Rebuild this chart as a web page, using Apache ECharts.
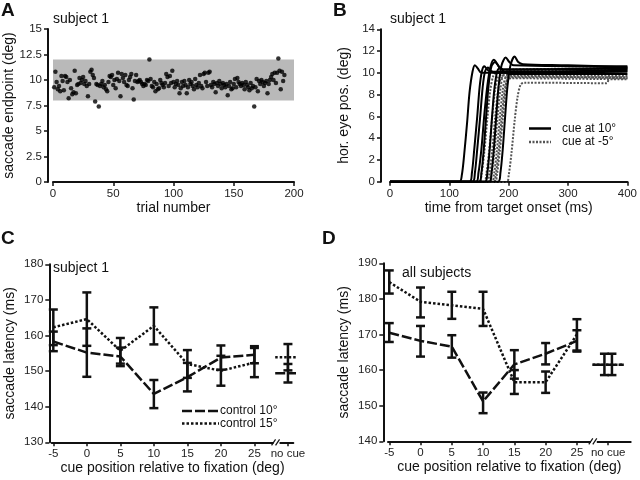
<!DOCTYPE html>
<html><head><meta charset="utf-8">
<script src="https://cdn.jsdelivr.net/npm/echarts@6/dist/echarts.min.js"></script>
<style>html,body{margin:0;padding:0;background:#fff}#main{width:640px;height:480px}</style>
</head><body><div id="main"></div>
<script>
// ---------- Panel A: saccade endpoints per trial ----------
const endpointA = [
9.3,10.8,9.8,9.1,9.4,8.9,10.4,9.9,9.0,10.4,
10.3,9.8,8.2,10.0,9.2,8.6,8.8,10.9,8.7,9.5,
9.6,10.2,9.7,10.0,10.3,9.6,9.9,9.4,8.4,9.6,
10.8,11.0,10.5,10.2,7.9,9.6,9.5,7.4,9.4,9.6,
9.9,9.3,9.5,9.1,8.9,9.8,10.4,10.3,10.5,9.5,
10.0,9.2,10.1,10.7,9.9,8.4,10.6,10.2,9.8,10.5,
9.5,9.4,10.0,10.3,10.6,9.2,8.1,9.9,10.5,9.8,
9.9,10.0,9.8,9.6,9.4,9.6,9.5,10.0,9.9,12.0,
10.1,9.4,9.3,9.8,8.9,9.6,9.1,9.2,10.0,9.7,
9.5,9.3,9.7,10.6,10.3,9.4,10.4,9.7,10.9,9.8,
9.3,9.6,9.9,9.5,8.7,9.2,9.8,9.4,9.9,9.5,
8.7,9.3,10.0,9.6,9.8,9.4,9.1,10.1,9.5,9.3,
9.7,10.5,9.4,9.2,10.6,10.7,9.8,9.4,10.7,10.8,
9.5,9.3,9.8,9.6,8.8,9.7,9.4,9.9,9.6,9.2,
9.7,9.5,9.3,9.6,8.5,9.4,9.8,9.1,9.2,9.6,
10.1,9.3,10.2,9.8,9.6,9.4,9.7,9.5,9.1,9.8,
9.5,9.3,9.0,9.7,9.2,9.4,7.4,9.3,10.1,8.9,
9.9,9.6,10.0,9.8,9.4,9.7,9.9,8.7,9.6,10.0,
10.3,10.6,10.0,10.7,9.7,10.7,12.1,10.9,9.1,10.8,
9.9,10.5];
const bandA = [8, 12];

// ---------- Panel B: eye position traces [time ms, deg] ----------
const tracesCue10 = [
 [[0,0],[117,0],[121,0.6],[125,2.5],[130,5.5],[134,8.2],[139,10.1],[143,10.7],[148,10.4],[154,10.0],[170,10.0],[400,10.1]],
 [[0,0],[134,0],[138,0.8],[142,3],[147,6],[151,8.7],[155,10.2],[159,10.6],[164,10.3],[170,10.1],[400,10.2]],
 [[0,0],[139,0],[143,0.8],[147,3],[152,6],[156,8.6],[160,10.1],[165,10.5],[170,10.2],[176,10.0],[400,10.3]],
 [[0,0],[145,0],[149,0.8],[154,3],[159,6.2],[164,8.8],[169,10.5],[175,11.2],[181,10.8],[188,10.3],[400,10.4]],
 [[0,0],[150,0],[154,0.8],[158,3],[162,6],[166,8.8],[171,10.6],[177,11.0],[183,10.6],[190,10.3],[400,10.5]],
 [[0,0],[160,0],[164,0.8],[168,3],[172,6],[176,8.6],[181,10.2],[186,10.5],[192,10.1],[200,9.9],[400,9.9]],
 [[0,0],[167,0],[171,0.8],[175,3],[179,6],[183,8.8],[188,10.7],[195,11.4],[201,11.0],[208,10.7],[400,10.6]],
 [[0,0],[182,0],[186,0.8],[190,3],[194,6],[198,8.8],[203,10.7],[210,11.5],[216,11.0],[224,10.8],[300,10.7],[400,10.5]]
];
const tracesCueM5 = [
 [[0,-0.1],[150,-0.1],[154,0.6],[159,2.8],[164,5.8],[169,8.4],[174,9.7],[180,10.0],[400,9.9]],
 [[0,-0.1],[158,-0.1],[162,0.6],[167,2.8],[172,5.8],[177,8.4],[182,9.6],[188,9.8],[400,9.7]],
 [[0,-0.1],[163,-0.1],[167,0.6],[172,2.8],[177,5.8],[182,8.3],[187,9.5],[195,9.6],[400,9.6]],
 [[0,-0.1],[167,-0.1],[171,0.6],[176,2.8],[181,5.8],[186,8.5],[191,9.9],[198,10.2],[400,10.3]],
 [[0,-0.1],[171,-0.1],[175,0.6],[180,2.8],[185,5.8],[190,8.4],[195,9.6],[202,9.7],[400,9.5]],
 [[0,-0.1],[174,-0.1],[178,0.6],[183,2.8],[188,5.8],[193,8.3],[198,9.4],[206,9.5],[400,9.4]],
 [[0,-0.1],[176,-0.1],[180,0.6],[185,2.8],[190,5.8],[195,8.6],[200,10.0],[208,10.3],[400,10.4]],
 [[0,-0.1],[196,-0.1],[200,0.6],[205,2.8],[210,5.6],[215,7.8],[220,8.9],[226,9.1],[365,9.05],[370,9.5],[400,9.5]]
];

// ---------- Panels C & D: latency vs cue position ----------
const cuePos = [-5, 0, 5, 10, 15, 20, 25];
const noCuePos = 30;
const xTickLabels = ['-5','0','5','10','15','20','25','no cue'];

const c10 = [158.3,155.2,154.1,143.6,148.3,153.8,154.6];
const c10Err = [[155.6,161.1],[148.4,162.0],[151.4,156.6],[139.6,147.5],[144.3,152.3],[150.4,157.2],[152.2,157.0]];
const c15 = [162.3,164.6,155.7,162.7,152.0,150.1,152.4];
const c15Err = [[157.3,167.3],[157.1,172.1],[152.1,159.3],[157.5,167.9],[148.1,155.9],[145.9,154.3],[148.3,156.5]];
const c10NoCue = 149.4, c10NoCueErr = [146.8,152.0];
const c15NoCue = 153.9, c15NoCueErr = [150.2,157.6];

const d10 = [170.5,168.2,166.6,151.2,161.6,164.6,168.2];
const d10Err = [[167.9,173.2],[163.8,172.4],[163.5,169.8],[147.9,153.7],[157.6,165.6],[161.6,167.6],[165.2,171.2]];
const d15 = [184.7,179.2,178.2,177.2,156.6,156.6,170.0];
const d15Err = [[181.5,188.0],[174.8,183.2],[174.4,182.0],[172.4,182.0],[153.3,160.0],[153.6,159.6],[165.5,174.3]];
const d10NoCue = 161.5, d10NoCueErr = [158.6,164.6];
const d15NoCue = 161.5, d15NoCueErr = [158.6,164.6];

// ---------- styling ----------
const FONT = "'Liberation Sans', Arial, sans-serif";
const black = '#111';
const axisLine = {show:true, onZero:false, lineStyle:{color:black, width:2}};
const axisTick = {show:true, length:4, lineStyle:{color:black, width:1.5}};
const lbl = {color:'#222', fontSize:11.5, fontFamily:FONT, margin:6};
const nameStyle = {color:'#111', fontSize:14, fontFamily:FONT};

function errRender(params, api) {
  const x = api.value(0), lo = api.value(1), hi = api.value(2);
  const a = api.coord([x, lo]), b = api.coord([x, hi]);
  const w = 4.5, st = {stroke:black, lineWidth:2.5};
  return {type:'group', children:[
    {type:'line', shape:{x1:a[0],y1:a[1],x2:b[0],y2:b[1]}, style:st},
    {type:'line', shape:{x1:a[0]-w,y1:a[1],x2:a[0]+w,y2:a[1]}, style:st},
    {type:'line', shape:{x1:b[0]-w,y1:b[1],x2:b[0]+w,y2:b[1]}, style:st}
  ]};
}
function errSeries(idx, xs, errs) {
  return {type:'custom', xAxisIndex:idx, yAxisIndex:idx, renderItem:errRender, clip:false, z:5,
    data: xs.map((x,i)=>[x, errs[i][0], errs[i][1]]), encode:{x:0, y:[1,2]}};
}
const DASH = [10,3], DOT = [2.5,2];
function lineSeries(idx, xs, ys, dash) {
  return {type:'line', xAxisIndex:idx, yAxisIndex:idx, symbol:'none', clip:false, z:4,
    lineStyle:{color:black, width:2.5, type:dash},
    data: xs.map((x,i)=>[x, ys[i]])};
}
function noCueSeg(idx, v, half, dash) {
  return {type:'line', xAxisIndex:idx, yAxisIndex:idx, symbol:'none', clip:false, z:4,
    lineStyle:{color:black, width:2.5, type:dash},
    data:[[noCuePos-half, v],[noCuePos+half, v]]};
}

const series = [];
// A
series.push({type:'scatter', xAxisIndex:0, yAxisIndex:0, symbol:'circle', symbolSize:4.5,
  itemStyle:{color:'#000'}, z:3,
  data: endpointA.map((v,i)=>[i+1, v]),
  markArea:{silent:true, itemStyle:{color:'#b9b9b9'}, data:[[{yAxis:bandA[0]},{yAxis:bandA[1]}]]}});
// B
tracesCueM5.forEach(t=>series.push({type:'line', xAxisIndex:1, yAxisIndex:1, symbol:'none', smooth:0.3,
  lineStyle:{color:'#555', width:2, type:[2,1.5]}, data:t, z:2}));
tracesCue10.forEach(t=>series.push({type:'line', xAxisIndex:1, yAxisIndex:1, symbol:'none', smooth:0.3,
  lineStyle:{color:'#000', width:2}, data:t, z:3}));
// C
series.push(lineSeries(2, cuePos, c10, DASH));
series.push(lineSeries(2, cuePos, c15, DOT));
series.push(errSeries(2, cuePos, c10Err));
series.push(errSeries(2, cuePos, c15Err));
series.push(noCueSeg(2, c10NoCue, 1.9, DASH));
series.push(noCueSeg(2, c15NoCue, 1.9, DOT));
series.push(errSeries(2, [noCuePos, noCuePos], [c10NoCueErr, c15NoCueErr]));
// D
series.push(lineSeries(3, cuePos, d10, DASH));
series.push(lineSeries(3, cuePos, d15, DOT));
series.push(errSeries(3, cuePos, d10Err));
series.push(errSeries(3, cuePos, d15Err));
series.push(noCueSeg(3, d15NoCue, 2.5, DOT));
series.push(noCueSeg(3, d10NoCue, 2.5, DASH));
series.push(errSeries(3, [noCuePos-0.6, noCuePos+0.6], [d10NoCueErr, d15NoCueErr]));

const tickVals = cuePos.concat([noCuePos]);
function cueAxis(idx, min, max) {
  return {type:'value', gridIndex:idx, min:min, max:max, splitLine:{show:false},
    axisLine:axisLine, axisTick:Object.assign({customValues:tickVals}, axisTick),
    axisLabel:Object.assign({customValues:tickVals, formatter:v=>xTickLabels[tickVals.indexOf(v)]}, lbl),
    name:'cue position relative to fixation (deg)', nameLocation:'middle', nameGap:19, nameTextStyle:nameStyle};
}

const option = {
  animation:false,
  backgroundColor:'#fff',
  grid:[
    {left:53, top:29, width:241, height:153},
    {left:390, top:29.3, width:240, height:152.4},
    {left:51.7, top:264.3, width:241.6, height:178},
    {left:388, top:263.3, width:242.7, height:178}
  ],
  xAxis:[
    {type:'value', gridIndex:0, min:0, max:200, interval:50, splitLine:{show:false},
      axisLine:axisLine, axisTick:axisTick, axisLabel:lbl,
      name:'trial number', nameLocation:'middle', nameGap:19, nameTextStyle:nameStyle},
    {type:'value', gridIndex:1, min:0, max:400, interval:100, splitLine:{show:false},
      axisLine:axisLine, axisTick:axisTick, axisLabel:lbl,
      name:'time from target onset (ms)', nameLocation:'middle', nameGap:19, nameTextStyle:nameStyle},
    cueAxis(2, -5.24, 30.8),
    cueAxis(3, -5.2, 33.6)
  ],
  yAxis:[
    {type:'value', gridIndex:0, min:0, max:15, interval:2.5, offset:5, splitLine:{show:false},
      axisLine:axisLine, axisTick:axisTick, axisLabel:lbl,
      name:'saccade endpoint (deg)', nameLocation:'middle', nameGap:30, nameTextStyle:nameStyle},
    {type:'value', gridIndex:1, min:0, max:14, interval:2, offset:9, splitLine:{show:false},
      axisLine:axisLine, axisTick:axisTick, axisLabel:lbl,
      name:'hor. eye pos. (deg)', nameLocation:'middle', nameGap:30, nameTextStyle:nameStyle},
    {type:'value', gridIndex:2, min:130, max:180, interval:10, offset:2.4, splitLine:{show:false},
      axisLine:axisLine, axisTick:axisTick, axisLabel:lbl,
      name:'saccade latency (ms)', nameLocation:'middle', nameGap:32, nameTextStyle:nameStyle},
    {type:'value', gridIndex:3, min:140, max:190, interval:10, offset:4.7, splitLine:{show:false},
      axisLine:axisLine, axisTick:axisTick, axisLabel:lbl,
      name:'saccade latency (ms)', nameLocation:'middle', nameGap:32, nameTextStyle:nameStyle}
  ],
  series:series
};

const chart = echarts.init(document.getElementById('main'));
chart.setOption(option);

// decorations: panel letters, titles, legends, axis breaks
const g = [];
function txt(x, y, s, size, bold) {
  g.push({type:'text', left:x, top:y, z:50, style:{text:s, fill:'#111', font:(bold?'bold ':'')+size+'px '+FONT}});
}
txt(1, 1, 'A', 19, true); txt(333, 1, 'B', 19, true);
txt(1, 229, 'C', 19, true); txt(322, 229, 'D', 19, true);
txt(53, 12, 'subject 1', 14); txt(390, 12, 'subject 1', 14);
txt(53, 261, 'subject 1', 14); txt(402, 266, 'all subjects', 14);

function legendRow(x1, x2, y, dash, color, label, tx) {
  g.push({type:'line', z:50, shape:{x1:x1, y1:y, x2:x2, y2:y}, style:{stroke:color, lineWidth:2.5, lineDash:dash}});
  g.push({type:'text', z:50, x:tx, y:y, style:{text:label, fill:'#111', font:'12px '+FONT, textVerticalAlign:'middle'}});
}
legendRow(529, 551, 128.5, null, '#000', 'cue at 10°', 562);
legendRow(529, 551, 142, [2,1.5], '#555', 'cue at -5°', 562);
legendRow(182, 219, 411, DASH, '#111', 'control 10°', 220);
legendRow(182, 219, 423.5, DOT, '#111', 'control 15°', 220);

function brk(idx, val, yv) {
  const p = chart.convertToPixel({xAxisIndex:idx, yAxisIndex:idx}, [val, yv]);
  g.push({type:'rect', z:60, shape:{x:p[0]-3, y:p[1]-3, width:6, height:6}, style:{fill:'#fff'}});
  g.push({type:'line', z:61, shape:{x1:p[0]-5, y1:p[1]+3, x2:p[0]-1, y2:p[1]-3}, style:{stroke:'#111', lineWidth:1.2}});
  g.push({type:'line', z:61, shape:{x1:p[0]-1, y1:p[1]+3, x2:p[0]+3, y2:p[1]-3}, style:{stroke:'#111', lineWidth:1.2}});
}
brk(2, 28.3, 130);
brk(3, 27.7, 140);

chart.setOption({graphic:g});
</script></body></html>
